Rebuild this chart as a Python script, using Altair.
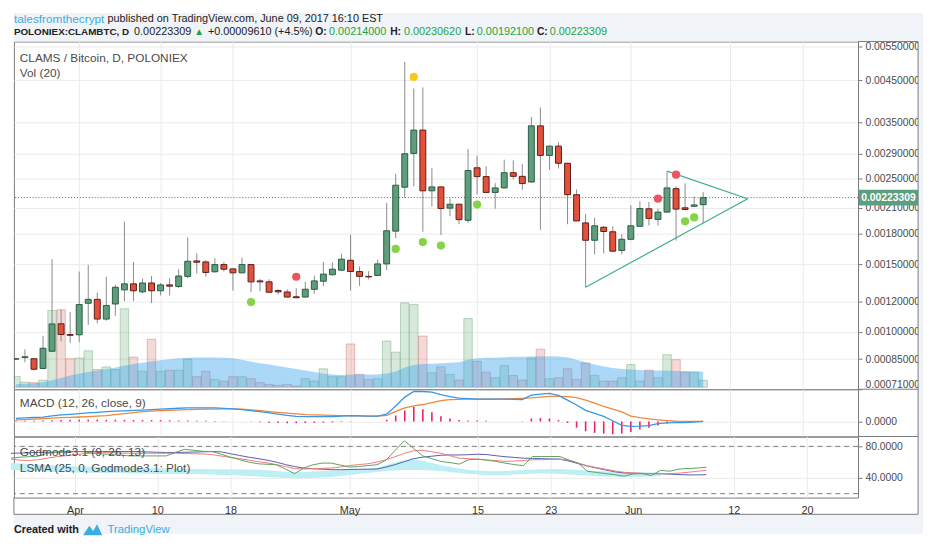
import altair as alt
import pandas as pd

# ------------------------------------------------------------------ data
dates = list(pd.date_range("2017-03-25", "2017-06-09", freq="D").strftime("%Y-%m-%d"))

open_ = [0.000850, 0.000858, 0.000852, 0.000804, 0.000891, 0.001050, 0.000985,
         0.000983, 0.001187, 0.001215, 0.001080, 0.001182, 0.001286, 0.001333, 0.001271, 0.001340, 0.001279,
         0.001325, 0.001312, 0.001394, 0.001529, 0.001520, 0.001433, 0.001496, 0.001458, 0.001424, 0.001496,
         0.001357, 0.001349, 0.001281, 0.001270, 0.001234, 0.001232, 0.001290, 0.001354, 0.001408, 0.001447,
         0.001535, 0.001435, 0.001394, 0.001402, 0.001502, 0.001827, 0.002376, 0.002907, 0.003342, 0.002325,
         0.002380, 0.002096, 0.002146, 0.001949, 0.002668, 0.002531, 0.002303, 0.002366, 0.002591, 0.002535,
         0.002451, 0.003428, 0.002873, 0.003037, 0.002741, 0.002271, 0.001919, 0.001730, 0.001870, 0.001820,
         0.001628,
         0.001740, 0.001881, 0.002088, 0.001960, 0.002047, 0.002355, 0.002100, 0.002120, 0.002140]
high_ = [0.000856, 0.000900, 0.000856, 0.000977, 0.001544, 0.001143, 0.001127,
         0.001435, 0.001493, 0.001266, 0.001391, 0.001327, 0.001934, 0.001520, 0.001375, 0.001397, 0.001340,
         0.001380, 0.001455, 0.001760, 0.001602, 0.001535, 0.001554, 0.001520, 0.001462, 0.001559, 0.001500,
         0.001373, 0.001370, 0.001291, 0.001290, 0.001300, 0.001350, 0.001399, 0.001520, 0.001514, 0.001597,
         0.001788, 0.001479, 0.001438, 0.001541, 0.002163, 0.002576, 0.005025, 0.004287, 0.004312, 0.002668,
         0.002390, 0.002224, 0.002150, 0.002984, 0.002868, 0.002693, 0.002433, 0.002801, 0.002790, 0.002730,
         0.003614, 0.003826, 0.003050, 0.003109, 0.002750, 0.002344, 0.002027, 0.001980, 0.001880, 0.001881,
         0.001795,
         0.002134, 0.002184, 0.002175, 0.002091, 0.002610, 0.002390, 0.002433, 0.002250, 0.0023062]
low_ = [0.000846, 0.000834, 0.000795, 0.000800, 0.000888, 0.000945, 0.000936,
        0.000940, 0.001043, 0.001053, 0.001070, 0.001101, 0.001201, 0.001203, 0.001260, 0.001189, 0.001244,
        0.001244, 0.001300, 0.001380, 0.001418, 0.001391, 0.001425, 0.001435, 0.001281, 0.001418, 0.001268,
        0.001276, 0.001262, 0.001251, 0.001228, 0.001224, 0.001228, 0.001256, 0.001314, 0.001400, 0.001440,
        0.001281, 0.001317, 0.001369, 0.001398, 0.001447, 0.001750, 0.002227, 0.002390, 0.001820, 0.002116,
        0.001784, 0.002000, 0.001904, 0.001919, 0.002280, 0.002295, 0.002088, 0.002360, 0.002491, 0.002339,
        0.002440, 0.001842, 0.002637, 0.002657, 0.001904, 0.001940, 0.001306, 0.001590, 0.001599, 0.001610,
        0.001590,
        0.001730, 0.001880, 0.001889, 0.001889, 0.002040, 0.001727, 0.002070, 0.002110, 0.001921]
close_ = [0.000852, 0.000862, 0.000800, 0.000907, 0.001049, 0.000985, 0.000980,
          0.001178, 0.001215, 0.001080, 0.001171, 0.001306, 0.001333, 0.001279, 0.001340, 0.001279, 0.001325,
          0.001315, 0.001397, 0.001526, 0.001517, 0.001427, 0.001496, 0.001455, 0.001424, 0.001496, 0.001349,
          0.001349, 0.001268, 0.001271, 0.001232, 0.001227, 0.001291, 0.001357, 0.001413, 0.001455, 0.001545,
          0.001435, 0.001394, 0.001390, 0.001502, 0.001831, 0.002404, 0.002902, 0.003342, 0.002325, 0.002380,
          0.002091, 0.002146, 0.001957, 0.002626, 0.002531, 0.002303, 0.002366, 0.002591, 0.002535, 0.002428,
          0.003428, 0.002873, 0.003037, 0.002741, 0.002271, 0.001942, 0.001730, 0.001886, 0.001823, 0.001621,
          0.001740,
          0.001886, 0.002091, 0.001972, 0.002047, 0.002366, 0.002084, 0.002080, 0.002137, 0.00223309]

volume = [11, 5.3, 4.7, 7.3, 78, 78.7, 29,
          29.7, 37, 18, 20.7, 18, 79.7, 30.7, 16.3, 48.7, 16.3, 17.3, 17.3, 28.7, 10.7, 16.3, 8, 6.3, 10.7,
          10.7, 8.7, 4.7, 3, 2, 3, 1.3, 8.7, 6.3, 18.7, 10.7, 10.7,
          44, 13, 8, 8.7, 47, 35.7, 85.7, 84, 52, 14.7, 20.7, 13, 7.3, 69.7, 26.3, 15.3, 9.7, 22, 12, 7.3,
          29.7, 38.7, 8.7, 9.7, 18.7, 8, 24.7, 12, 6.3, 6.3, 9.7,
          23, 6.3, 17.3, 9.7, 33, 28, 15.3, 15.3, 7]
vol_ma20 = [3, 3.5, 4, 5, 7, 9.5, 12,
            14, 15.5, 17, 18.5, 20, 22, 23.5, 25, 26.5, 27.5, 28.5, 29.5, 30, 30.3, 30.3, 30.3, 30, 29.5, 28,
            26, 24.5, 23, 21.5, 20, 18.5, 17, 15.5, 14, 13, 12.5,
            13, 13, 13, 13, 14, 16, 20, 22.5, 23.5, 24, 24.5, 25, 25.5, 28, 29.5, 30, 30, 30.5, 31, 31,
            31.3, 31.5, 31.5, 31.3, 30.5, 28, 25.5, 23, 21, 19.5, 18.5,
            18, 17.5, 17, 17, 17, 16.5, 16.5, 16, 16]

# MACD (12, 26, close, 9), in units of 1e-5 BTC
macd_e5 = [3.2, 3.7, 4.0, 4.4, 5.7, 6.7, 7.2,
           7.9, 8.7, 9.2, 9.9, 10.4, 10.7, 11.2, 11.5, 11.9, 12.5, 12.9, 13.4, 13.7, 13.7, 13.7, 13.7, 13.2,
           12.7, 11.9, 10.9, 9.9, 8.7, 7.4, 6.2, 5.2, 5.0, 5.0, 5.0, 5.0, 5.5,
           5.9, 5.7, 5.4, 5.4, 7.4, 15.7, 24.7, 30.4, 30.4, 29.7, 27.2, 25.2, 23.7, 23.2, 22.7, 22.7, 22.7,
           22.7, 22.4, 22.2, 26.7, 27.7, 28.4, 26.4, 21.7, 16.7, 11.2, 8.2, 5.2, 0.7, -4.0,
           -5.0, -4.8, -4.3, -2.1, -1.5, -1.3, -1.1, -0.6, 0.0]
signal_e5 = [1.5, 1.9, 2.4, 2.9, 3.4, 3.9, 4.2,
             4.5, 4.9, 5.4, 6.0, 6.9, 7.9, 9.0, 10.0, 10.5, 10.9, 11.3, 11.7, 12.1, 12.3, 12.5, 12.6, 12.7,
             12.7, 12.4, 11.7, 10.9, 10.0, 9.2, 8.4, 7.7, 7.0, 6.7, 6.4, 6.1, 5.9,
             5.7, 5.6, 5.5, 5.4, 6.2, 10.2, 13.7, 15.7, 17.2, 19.2, 21.2, 22.2, 22.5, 22.7, 22.7, 22.7, 22.7,
             22.9, 23.2, 23.5, 23.9, 24.7, 25.5, 25.5, 25.2, 24.2, 21.7, 18.7, 15.2, 12.4, 9.7,
             5.4, 3.9, 2.7, 1.7, 0.9, 0.2, 0.0, 0.0, 0.0]
hist_e5 = [0.7, 0.8, 0.8, 0.9, 1.2, 1.5, 1.6,
           1.7, 1.8, 1.8, 1.7, 1.7, 1.6, 1.5, 1.5, 1.4, 1.3, 1.2, 1.0, 1.0, 0.8, 0.6, 0.4, 0.2, 0, 0,
           -0.4, -0.8, -1.2, -1.5, -1.8, -1.8, -1.6, -1.4, -1.2, -1.0, -0.6,
           -0.3, 0, 0, 0, 1.7, 6, 11, 15, 12.4, 9.4, 5.4, 3, 1.4, 1, 1, 0.7, 0, 0, 0, -0.3,
           3, 3.4, 3, 1.4, -1.6, -6.3, -10, -11.6, -12.3, -13, -12.3,
           -10.6, -8.3, -6.3, -4, -2, -1, -0.5, -0.3, 0]

# Godmode3.1 (9, 26, 13) and LSMA
gm_green = [65, 66.25, 66.9, 67.5, 71.25, 72.5, 73.1,
            73.4, 73.1, 71.25, 70.4, 69.6, 68.75, 67.9, 67.9, 67.9, 67.9, 67.9, 72.5, 76.25, 75, 73.75,
            73.4, 70, 66.25, 63.1, 60, 57.9, 57.25, 56.6, 51.25, 45.4, 52.5, 56.6, 58.75, 58.75, 56.25,
            53.75, 54.4, 55.6, 56.6, 62.5, 75, 87.1, 77.5, 67.9, 64.4, 60.9, 59.4, 57.5, 62.9, 63.75, 62.5,
            60.9, 58.75, 56.9, 55.4, 67.1, 67.1, 67.1, 67.1, 62.5, 58.75, 48.4, 46.9, 45.4, 44, 42.1,
            45, 45.4, 42.9, 49.6, 48.4, 51.25, 51.9, 52.5, 53.4]
gm_red = [63.75, 62.5, 62.1, 63.1, 65, 66.9, 68.1,
          69.4, 70.6, 71.5, 72.1, 71.9, 71.5, 71.25, 71.25, 71.25, 71.25, 71.25, 71.25, 70.9, 70.6, 70.4,
          69.4, 67.75, 65.9, 64.4, 62.5, 60.6, 59.1, 56.9, 54.4, 51.9, 51.25, 51.6, 52.1, 52.5, 53.75,
          55.6, 56.9, 57.9, 60, 63.1, 66.9, 71.25, 74.4, 75, 73.1, 71.25, 68.1, 65, 64.4, 63.75, 62.75,
          61.9, 61, 61.25, 62.1, 62.9, 63.1, 63.4, 63.75, 62.5, 58.75, 55.4, 53.1, 50.9, 48.75, 47.1,
          46.25, 45.6, 45.4, 45.4, 45.4, 46, 47.1, 48.4, 49.6]
gm_purple = [71.25, 71.5, 71.9, 72.25, 72.5, 72.75, 73.1,
             73.4, 73.4, 73.4, 73.4, 73.4, 73.4, 73.4, 73.25, 72.9, 72.5, 72.25, 72.25, 72.5, 72.75, 73.1,
             73.4, 73, 70.6, 68.4, 66.25, 64.4, 62.5, 60, 56.9, 54.4, 52.5, 51.6, 51, 50.5, 50.4,
             50.6, 50.9, 51, 51.25, 53.75, 56.9, 60.6, 64.4, 66.25, 67.5, 68.75, 69.1, 69.1, 69.4, 70, 69.6,
             68.1, 66.9, 66, 65, 64.75, 64.4, 64, 63.75, 61.25, 58.1, 55, 52.5, 50, 47.75, 46.25,
             46, 45.75, 45.5, 45.25, 44.75, 44.25, 43.75, 43.75, 44.1]
lsma_hi = [58.75, 58.1, 57.5, 56.9, 56.25, 55.6, 55,
           54.75, 54.4, 54, 53.75, 53.4, 53.1, 52.75, 52.5, 52.25, 52.1, 51.9, 51.75, 51.5, 51.4, 51.25,
           51.1, 51, 50.9, 50.75, 50.6, 50.4, 49.75, 48.75, 47.75, 47.1, 47.5, 48.1, 48.75, 49.4, 49.75,
           50.25, 50.9, 51.5, 52.5, 56.25, 59.4, 62.5, 63.75, 61.9, 58.75, 56.25, 53.75, 51.9, 50, 49.4,
           48.75, 48.4, 48.75, 49.4, 50, 50.6, 51, 51.25, 51.25, 50.6, 50, 49.4, 48.75, 48.1, 47.5, 46.9,
           46.25, 46.5, 46.9, 47.1, None, None, None, None, None]
lsma_lo = [50, 49.4, 48.75, 48.75, 48.1, 47.5, 47.5,
           46.9, 46.9, 46.25, 46.25, 46.25, 46.25, 45.6, 45.6, 45.6, 45, 45, 45, 45, 45, 44.4,
           44.4, 43.75, 43.75, 43.1, 42.5, 41.9, 41.25, 40.6, 40, 39.4, 39.4, 40, 40.6, 41.25, 42.5,
           43.75, 45, 46.25, 47.5, 48.75, 49.4, 50, 50, 50, 49.4, 48.75, 47.5, 46.25, 45, 44.4,
           43.75, 43.75, 43.75, 44.4, 45, 45.6, 45.6, 45.6, 45, 44.4, 43.75, 43.1, 42.5, 41.9, 41.5, 41.25,
           41.25, 41.5, 41.9, 42.5, None, None, None, None, None]

# signal dots and drawn trend lines
buy_dates = ["2017-04-20", "2017-05-06", "2017-05-09", "2017-05-11", "2017-05-15", "2017-06-07", "2017-06-08"]
buy_prices = [0.001196, 0.001643, 0.001712, 0.001676, 0.002141, 0.001937, 0.001983]
sell_dates = ["2017-04-25", "2017-06-04", "2017-06-06"]
sell_prices = [0.001391, 0.002218, 0.002560]
peak_dates = ["2017-05-08"]
peak_prices = [0.004592]
tri_lower_dates = ["2017-05-27", "2017-06-13T22:00:00Z"]
tri_lower_prices = [0.001306, 0.002218]
tri_upper_dates = ["2017-06-05", "2017-06-13T22:00:00Z"]
tri_upper_prices = [0.002615, 0.002218]
last_price = 0.00223309

price_ticks = [0.0055, 0.0045, 0.0035, 0.0029, 0.0025, 0.0021, 0.0018, 0.0015, 0.0012, 0.0010, 0.00085, 0.00071]
tick_days = [(4, 1), (4, 10), (4, 18), (5, 1), (5, 15), (5, 23), (6, 1), (6, 12), (6, 20)]

n = len(dates)
for arr in [open_, high_, low_, close_, volume, vol_ma20, macd_e5, signal_e5, hist_e5,
            gm_green, gm_red, gm_purple, lsma_hi, lsma_lo]:
    assert len(arr) == n, len(arr)

df = pd.DataFrame({"date": dates, "open": open_, "high": high_, "low": low_, "close": close_,
                   "vol": volume, "vma": vol_ma20})
mdf = pd.DataFrame({"date": dates, "macd": [v * 1e-5 for v in macd_e5],
                    "signal": [v * 1e-5 for v in signal_e5], "hist": [v * 1e-5 for v in hist_e5]})
gdf = pd.DataFrame({"date": dates, "green": gm_green, "red": gm_red, "purple": gm_purple,
                    "hi": lsma_hi, "lo": lsma_lo})

# ------------------------------------------------------------------ style
W, H1, H2, H3 = 857, 353, 48, 62
GRID = "#ebebeb"
FRAME = "#7a7a7a"
LAB = "#4a4a4a"
AXF = "Liberation Sans, Arial, sans-serif"
CF = "Liberation Sans, Arial, sans-serif"
BLUE = "#3aaee0"
GREEN_TXT = "#23a33f"
DARK = "#222222"
UP_F, UP_S = "#5e9e7c", "#2c5a43"
DN_F, DN_S = "#e2513c", "#5e1d14"

XS = alt.Scale(type="utc", nice=False,
               domain=[alt.DateTime(year=2017, month=3, date=25, hours=7, minutes=49, utc=True),
                       alt.DateTime(year=2017, month=6, date=25, hours=13, minutes=49, utc=True)])
tick_dates = [alt.DateTime(year=2017, month=m, date=d, utc=True) for m, d in tick_days]


def x_enc(labels=False):
    if labels:
        ax = alt.Axis(values=tick_dates, grid=True, gridColor=GRID, ticks=False, domain=False, title=None,
                      labelExpr="utcdate(datum.value) == 1 ? utcFormat(datum.value, '%b') : utcFormat(datum.value, '%-d')",
                      labelFont=AXF, labelFontSize=11, labelColor="#333", labelPadding=7)
    else:
        ax = alt.Axis(values=tick_dates, grid=True, gridColor=GRID, ticks=False, domain=False, labels=False,
                      title=None)
    return alt.X("date:T", scale=XS, axis=ax)


def right_axis(values, fmt, flush=False):
    return alt.Axis(orient="right", values=values, format=fmt, grid=True, gridColor=GRID, title=None,
                    labelFont=AXF, labelFontSize=10.5, labelColor=LAB, tickColor="#777", tickSize=4,
                    domainColor=FRAME, labelPadding=3, labelFlush=flush, labelOverlap=False)


def one():
    return alt.Chart(pd.DataFrame({"k": [0]}))


def txt(text, x, y, color=LAB, size=12, weight="normal", font=CF, baseline="middle", align="left"):
    return alt.Chart(pd.DataFrame({"t": [text]})).mark_text(
        align=align, baseline=baseline, font=font, fontSize=size, fontWeight=weight, color=color
    ).encode(x=alt.value(x), y=alt.value(y), text="t:N")


def seg(x1, x2, y1, y2, color=FRAME):
    if y1 == y2:
        return one().mark_rule(color=color, strokeWidth=1).encode(x=alt.value(x1), x2=alt.value(x2), y=alt.value(y1))
    return one().mark_rule(color=color, strokeWidth=1).encode(x=alt.value(x1), y=alt.value(y1), y2=alt.value(y2))


def box(x1, x2, y1, y2, color):
    return one().mark_rect(color=color).encode(x=alt.value(x1), x2=alt.value(x2), y=alt.value(y1), y2=alt.value(y2))


# ------------------------------------------------------------------ price panel
XP = x_enc(False)
PS = alt.Scale(type="log", domain=[0.00071, 0.005675], nice=False)
PAX = right_axis(price_ticks, ".8f", flush=True)


def py(field):
    return alt.Y(field, scale=PS, axis=PAX)


VS = alt.Scale(domain=[-2, 351], nice=False, zero=False)
up_cond = "datum.close >= datum.open"

vol_bars = alt.Chart(df).mark_bar(size=8.6, clip=True, fillOpacity=0.22, strokeOpacity=0.45, strokeWidth=0.8).encode(
    x=XP, y=alt.Y("vol:Q", scale=VS, axis=None),
    fill=alt.condition(up_cond, alt.value("#4d9b5e"), alt.value("#c8564c")),
    stroke=alt.condition(up_cond, alt.value("#4d9b5e"), alt.value("#c8564c")))
vol_ma = alt.Chart(df).mark_area(color="#39a2ed", opacity=0.42, clip=True).encode(
    x=XP, y=alt.Y("vma:Q", scale=VS, axis=None))
vol_layer = alt.layer(vol_bars, vol_ma)

wicks = alt.Chart(df).mark_rule(color="#8a8a8a", strokeWidth=1, clip=True).encode(
    x=XP, y=py("low:Q"), y2="high:Q")
bodies = alt.Chart(df).mark_bar(size=6, strokeWidth=1, clip=True).encode(
    x=XP, y=py("open:Q"), y2="close:Q",
    fill=alt.condition(up_cond, alt.value(UP_F), alt.value(DN_F)),
    stroke=alt.condition(up_cond, alt.value(UP_S), alt.value(DN_S)))
last_df = pd.DataFrame({"p": [last_price], "t": [f"{last_price:.8f}"]})
last_rule = alt.Chart(last_df).mark_rule(color="#2f7f69", strokeDash=[1, 2], strokeWidth=1).encode(y=py("p:Q"))


def tri(ds, ps):
    return alt.Chart(pd.DataFrame({"date": ds, "p": ps})).mark_line(color="#3cae8f", strokeWidth=1.2, clip=True).encode(
        x=XP, y=py("p:Q"))


def dots(ds, ps, color):
    return alt.Chart(pd.DataFrame({"date": ds, "p": ps})).mark_circle(size=70, opacity=1, color=color).encode(
        x=XP, y=py("p:Q"))


last_box = alt.Chart(last_df).mark_point(shape="M-1,-0.2667L1,-0.2667L1,0.2667L-1,0.2667Z", size=3600,
                                         filled=True, opacity=1, color="#5c9e80").encode(
    x=alt.value(888), y=py("p:Q"))
last_txt = alt.Chart(last_df).mark_text(font=AXF, fontSize=10.5, fontWeight="bold", color="white").encode(
    x=alt.value(888), y=py("p:Q"), text="t:N")

price_layer = alt.layer(wicks, bodies, last_rule,
                        tri(tri_lower_dates, tri_lower_prices), tri(tri_upper_dates, tri_upper_prices),
                        dots(buy_dates, buy_prices, "#86d34a"), dots(sell_dates, sell_prices, "#ee5563"),
                        dots(peak_dates, peak_prices, "#f6c91c"),
                        last_box, last_txt)

backgrounds = [
    box(0, 923, -29, 0, "#f0f3f7"),
    box(918, 923, 0, 480, "#f0f3f7"),
    box(0, 923, 480, 500, "#f0f3f7"),
]
L1, L2 = -23, -9.5
header = [
    txt("talesfromthecrypt", 0, L1, color=BLUE, size=12),
    txt("published on TradingView.com, June 09, 2017 16:10 EST", 95, L1, color=DARK, size=11),
    txt("POLONIEX:CLAMBTC, D", 0, L2, color=DARK, size=10, weight="bold"),
    txt("0.00223309", 122, L2, color=DARK, size=11),
    txt("▲", 183, L2, color=GREEN_TXT, size=10),
    txt("+0.00009610 (+4.5%)", 197, L2, color=DARK, size=11),
    txt("O:", 306, L2, color=DARK, size=10.5, weight="bold"),
    txt("0.00214000", 320, L2, color=GREEN_TXT, size=11),
    txt("H:", 382, L2, color=DARK, size=10.5, weight="bold"),
    txt("0.00230620", 396, L2, color=GREEN_TXT, size=11),
    txt("L:", 458, L2, color=DARK, size=10.5, weight="bold"),
    txt("0.00192100", 470, L2, color=GREEN_TXT, size=11),
    txt("C:", 531, L2, color=DARK, size=10.5, weight="bold"),
    txt("0.00223309", 544, L2, color=GREEN_TXT, size=11),
]
panel_text = [
    txt("CLAMS / Bitcoin, D, POLONIEX", 6, 17),
    txt("Vol (20)", 6, 32),
]
frame = [
    seg(857, 918, 0, 0), seg(918, 918, 0, 480), seg(857, 918, 353, 353), seg(857, 918, 401, 401),
    seg(0, 918, 480, 480), seg(0, 0, 463, 480),
]
footer = [
    txt("Created with", 0, 496, color=DARK, size=11, weight="bold"),
    one().mark_point(shape="M-1,0.55L-0.35,-0.45L0.05,0.1L0.45,-0.6L1,0.55Z", size=380, filled=True,
                     opacity=1, color=BLUE).encode(x=alt.value(80), y=alt.value(496)),
    txt("TradingView", 95, 496, color=BLUE, size=11.5),
]

p1 = alt.layer(*backgrounds, vol_layer, price_layer, *panel_text, *header, *frame, *footer).resolve_scale(
    y="independent").properties(width=W, height=H1)

# ------------------------------------------------------------------ MACD panel
XM = x_enc(False)
MS = alt.Scale(domain=[-15.3e-5, 32.7e-5], nice=False, zero=False)
MAX = right_axis([0], ".4f")
hist = alt.Chart(mdf).mark_bar(size=1.6, color="#e8216a").encode(x=XM, y=alt.Y("hist:Q", scale=MS, axis=MAX))
macd_line = alt.Chart(mdf).mark_line(color="#3598ea", strokeWidth=1.3).encode(x=XM, y=alt.Y("macd:Q", scale=MS, axis=MAX))
sig_line = alt.Chart(mdf).mark_line(color="#f0873a", strokeWidth=1.3).encode(x=XM, y=alt.Y("signal:Q", scale=MS, axis=MAX))
p2 = alt.layer(hist, sig_line, macd_line, txt("MACD (12, 26, close, 9)", 6, 14)).properties(width=W, height=H2)

# ------------------------------------------------------------------ Godmode panel
XG = x_enc(True)
GS = alt.Scale(domain=[15, 92.5], nice=False, zero=False)
GAX = right_axis([40, 80], ".4f")
band = alt.Chart(gdf).mark_area(color="#bdeff4", opacity=1).encode(
    x=XG, y=alt.Y("hi:Q", scale=GS, axis=GAX), y2="lo:Q")
levels = alt.Chart(pd.DataFrame({"lvl": [80, 20]})).mark_rule(color="#7d7d7d", strokeDash=[5, 4]).encode(
    y=alt.Y("lvl:Q", scale=GS, axis=GAX))


def gline(field, color):
    return alt.Chart(gdf).mark_line(color=color, strokeWidth=1).encode(x=XG, y=alt.Y(f"{field}:Q", scale=GS, axis=GAX))


p3 = alt.layer(band, levels, gline("purple", "#5a5aae"), gline("red", "#f07b7b"), gline("green", "#5ea35e"),
               txt("Godmode3.1 (9, 26, 13)", 6, 16),
               txt("LSMA (25, 0, Godmode3.1: Plot)", 6, 32)).properties(width=W, height=H3)

chart = alt.vconcat(p1, p2, p3, spacing=0, bounds="flush").resolve_scale(x="independent").properties(
    padding=0).configure_view(stroke=FRAME, strokeWidth=1)

chart.save("out.html", embed_options={"renderer": "svg", "actions": False})
